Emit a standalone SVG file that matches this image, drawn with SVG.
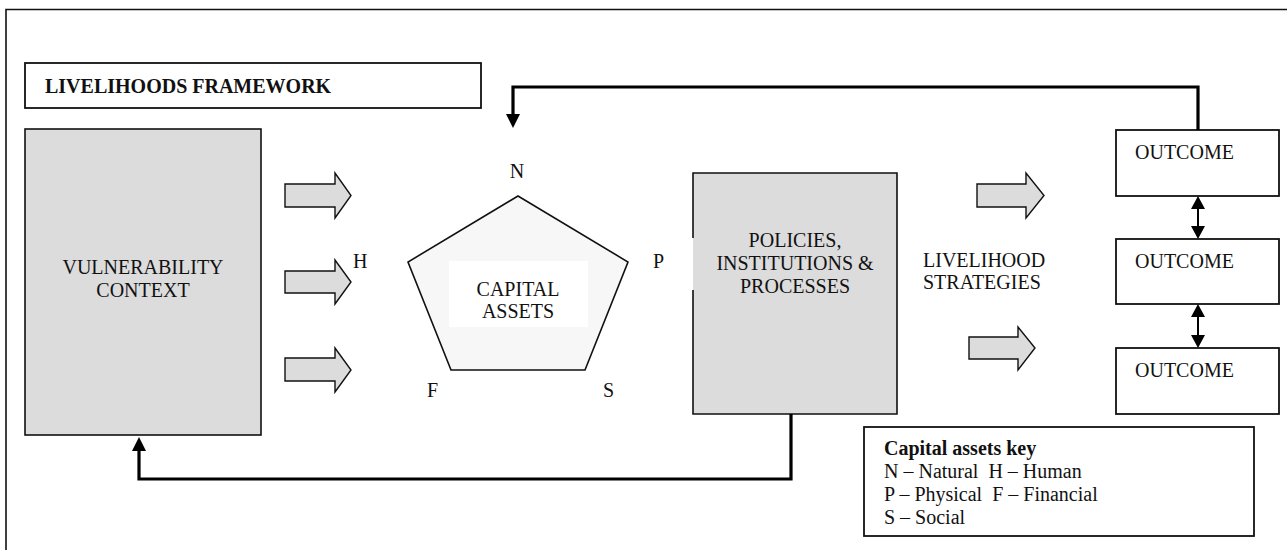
<svg xmlns="http://www.w3.org/2000/svg" width="1287" height="550" viewBox="0 0 1287 550">
<style>
  text { font-family: "Liberation Serif", "Times New Roman", serif; font-size: 20px; fill: #111; }
  .b { font-weight: bold; }
  .c { text-anchor: middle; }
  .box { fill: #dcdcdc; stroke: #111; stroke-width: 1.6; }
  .wbox { fill: #fff; stroke: #111; stroke-width: 1.8; }
  .blk { fill: #dcdcdc; stroke: #111; stroke-width: 1.4; stroke-linejoin: miter; }
  .fb { fill: none; stroke: #000; stroke-width: 3.2; }
  .dbl { fill: none; stroke: #000; stroke-width: 2; }
</style>
<defs>
  <marker id="ah" viewBox="0 0 14 14" refX="0" refY="7" markerWidth="14" markerHeight="14" markerUnits="userSpaceOnUse" orient="auto">
    <path d="M0,0 L14,7 L0,14 Z" fill="#000"/>
  </marker>
  <marker id="ah2" viewBox="0 0 13 14" refX="0" refY="7" markerWidth="13" markerHeight="14" markerUnits="userSpaceOnUse" orient="auto-start-reverse">
    <path d="M0,0 L13,7 L0,14 Z" fill="#000"/>
  </marker>
</defs>
<rect width="1287" height="550" fill="#fff"/>
<path id="frame" d="M6,552 V9.5 H1290" fill="none" stroke="#111" stroke-width="1.6"/>

<g id="title">
  <rect x="25" y="63" width="456" height="45" class="wbox" stroke-width="1.5"/>
  <text x="45" y="93" class="b">LIVELIHOODS FRAMEWORK</text>
</g>

<g id="vulnerability">
  <rect x="25" y="129" width="236" height="306" class="box"/>
  <text x="143" y="274" class="c">VULNERABILITY</text>
  <text x="143" y="297" class="c">CONTEXT</text>
</g>

<g id="input-arrows">
  <path class="blk" d="M285,184 H335 V173 L351,195.5 L335,218 V207 H285 Z"/>
  <path class="blk" d="M285,271 H335 V260 L351,282 L335,304 V293 H285 Z"/>
  <path class="blk" d="M285,358 H335 V348 L351,370 L335,392 V381 H285 Z"/>
</g>

<g id="capital-assets">
  <polygon points="518,196 628,262 585,370 451,370 408,262" fill="#f7f7f7" stroke="#111" stroke-width="1.6"/>
  <rect x="449" y="261" width="139" height="66" fill="#fff"/>
  <text x="518" y="296" class="c">CAPITAL</text>
  <text x="518" y="318" class="c">ASSETS</text>
  <text x="517" y="178" class="c">N</text>
  <text x="353" y="268">H</text>
  <text x="653" y="268">P</text>
  <text x="427" y="397">F</text>
  <text x="603" y="397">S</text>
</g>

<g id="policies">
  <rect x="693" y="173" width="204" height="241" fill="#dcdcdc"/>
  <path d="M693,238 V173 H897 V414 H693 V290" fill="none" stroke="#111" stroke-width="1.6"/>
  <text x="795" y="247" class="c">POLICIES,</text>
  <text x="795" y="270" class="c">INSTITUTIONS &amp;</text>
  <text x="795" y="293" class="c">PROCESSES</text>
</g>

<g id="strategies">
  <path class="blk" d="M977,184 H1026 V173 L1044,195.5 L1026,218 V207 H977 Z"/>
  <path class="blk" d="M969,337 H1018 V327 L1035,348 L1018,370 V359 H969 Z"/>
  <text x="923" y="267">LIVELIHOOD</text>
  <text x="923" y="289">STRATEGIES</text>
</g>

<g id="outcome1">
  <rect x="1116" y="130" width="163" height="66" class="wbox"/>
  <text x="1135" y="159">OUTCOME</text>
</g>
<g id="outcome2">
  <rect x="1116" y="239" width="163" height="65" class="wbox"/>
  <text x="1135" y="268">OUTCOME</text>
</g>
<g id="outcome3">
  <rect x="1116" y="348" width="163" height="66" class="wbox"/>
  <text x="1135" y="377">OUTCOME</text>
</g>

<g id="key">
  <rect x="864" y="427" width="390" height="109" class="wbox" stroke-width="1.6"/>
  <text x="884" y="455" class="b">Capital assets key</text>
  <text x="884" y="478" xml:space="preserve">N – Natural  H – Human</text>
  <text x="884" y="501" xml:space="preserve">P – Physical  F – Financial</text>
  <text x="884" y="524">S – Social</text>
</g>

<g id="connectors">
  <path class="fb" d="M1198,130 V87 H513 V114" marker-end="url(#ah)"/>
  <path class="fb" d="M791,414 V479 H139 V451" marker-end="url(#ah)"/>
  <path class="dbl" d="M1198,209 V226" marker-start="url(#ah2)" marker-end="url(#ah2)"/>
  <path class="dbl" d="M1198,317 V335" marker-start="url(#ah2)" marker-end="url(#ah2)"/>
</g>
</svg>
